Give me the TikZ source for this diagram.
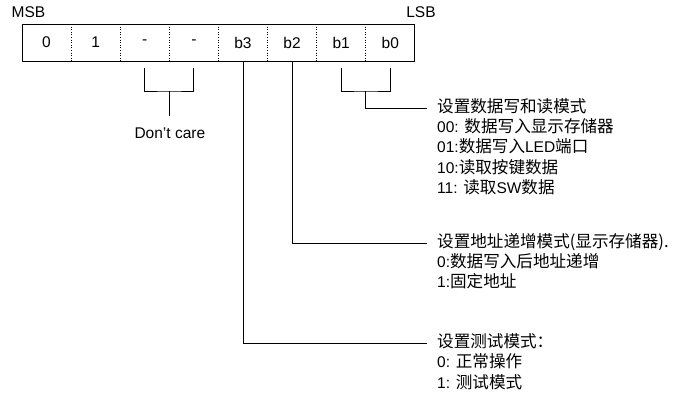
\documentclass[tikz,border=0pt]{standalone}
\usepackage{fontspec}
\setmainfont{Liberation Sans}
\newfontfamily\cjk[Scale=1.07]{Noto Sans CJK SC}
\newcommand{\zh}[1]{{\cjk #1}}
\usetikzlibrary{positioning}

\begin{document}
\begin{tikzpicture}[x=1pt,y=-1pt,
  font=\fontsize{15.5}{18}\selectfont,
  bit/.style={minimum width=49.1pt,minimum height=37pt,inner sep=0pt,outer sep=0pt},
  wire/.style={line width=0.8pt},
  desc/.style={anchor=west,inner sep=0pt,text height=11pt,text depth=3pt,minimum height=20pt}]
\useasboundingbox (0,0) rectangle (677,394);

% the register
\node[bit] (b7) at (46.55,42.5) {0};
\node[bit,right=0pt of b7] (b6) {1};
\node[bit,right=0pt of b6] (b5) {-};
\node[bit,right=0pt of b5] (b4) {-};
\node[bit,right=0pt of b4] (b3) {b3};
\node[bit,right=0pt of b3] (b2) {b2};
\node[bit,right=0pt of b2] (b1) {b1};
\node[bit,right=0pt of b1] (b0) {b0};
\draw[wire] (b7.north west) rectangle (b0.south east);
\foreach \i in {7,...,1}{
  \draw[dotted,line width=0.6pt] (b\i.north east) -- (b\i.south east);
}
\node (msb) at (28.5,12) {MSB};
\node (lsb) at (421,12) {LSB};

% don't care
\coordinate (dl) at ([yshift=-7pt]b5.south);
\coordinate (dr) at ([yshift=-7pt]b4.south);
\coordinate (dm) at (169.85,91);
\coordinate (ds) at (169.85,116);
\node (dontcare) at (169.85,133) {Don\char39t care};
\draw[wire] (dl) |- (dm) -| (dr);
\draw[wire] (dm) -- (ds);

% b1 b0
\node[desc] (m1) at (437,108) {\zh{设置数据写和读模式}};
\node[desc,below=0pt of m1.south west,anchor=north west] (m2) {00: \zh{数据写入显示存储器}};
\node[desc,below=0pt of m2.south west,anchor=north west] (m3) {01:\zh{数据写入}LED\zh{端口}};
\node[desc,below=0pt of m3.south west,anchor=north west] (m4) {10:\zh{读取按键数据}};
\node[desc,below=0pt of m4.south west,anchor=north west] (m5) {11: \zh{读取}SW\zh{数据}};
\coordinate (rl) at ([yshift=-7pt]b1.south);
\coordinate (rr) at ([yshift=-7pt]b0.south);
\coordinate (rm) at (365.8,91);
\draw[wire] (rl) |- (rm) -| (rr);
\draw[wire] (rm) |- ([xshift=-10pt]m1.west);

% b2
\node[desc] (a1) at (437,243) {\zh{设置地址递增模式(显示存储器).}};
\node[desc,below=0pt of a1.south west,anchor=north west] (a2) {0:\zh{数据写入后地址递增}};
\node[desc,below=0pt of a2.south west,anchor=north west] (a3) {1:\zh{固定地址}};
\draw[wire] (b2.south) |- ([xshift=-10pt]a1.west);

% b3
\node[desc] (t1) at (437,343.5) {\zh{设置测试模式：}};
\node[desc,below=0pt of t1.south west,anchor=north west] (t2) {0: \zh{正常操作}};
\node[desc,below=0pt of t2.south west,anchor=north west] (t3) {1: \zh{测试模式}};
\draw[wire] (b3.south) |- ([xshift=-10pt]t1.west);
\end{tikzpicture}
\end{document}
